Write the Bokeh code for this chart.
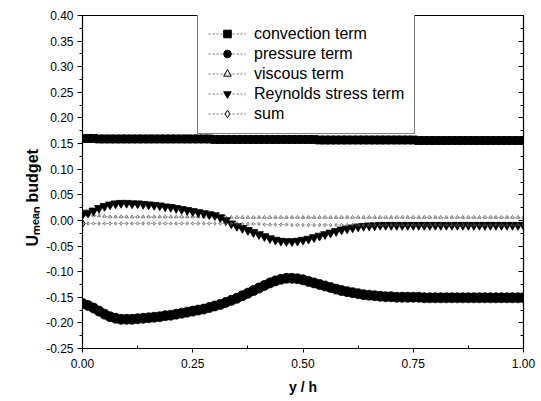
import numpy as np
from bokeh.plotting import figure
from bokeh.models import (Legend, LegendItem, LinearAxis, FixedTicker,
                          NumeralTickFormatter, ColumnDataSource, CDSView,
                          IndexFilter, Title)
from bokeh.embed import file_html
from bokeh.resources import INLINE

# ---------------- data ----------------
y_over_h = np.linspace(0.0, 1.0, 81)

convection = [
    0.160, 0.160, 0.160, 0.159, 0.159, 0.159, 0.159, 0.159, 0.159, 0.159,
    0.159, 0.159, 0.159, 0.159, 0.159, 0.159, 0.159, 0.159, 0.159, 0.159,
    0.159, 0.159, 0.159, 0.159, 0.158, 0.158, 0.158, 0.158, 0.158, 0.158,
    0.158, 0.158, 0.158, 0.158, 0.158, 0.158, 0.158, 0.158, 0.158, 0.158,
    0.158, 0.158, 0.158, 0.157, 0.157, 0.157, 0.157, 0.157, 0.157, 0.157,
    0.157, 0.157, 0.157, 0.157, 0.157, 0.157, 0.157, 0.157, 0.157, 0.157,
    0.157, 0.156, 0.156, 0.156, 0.156, 0.156, 0.156, 0.156, 0.156, 0.156,
    0.156, 0.156, 0.156, 0.156, 0.156, 0.156, 0.156, 0.156, 0.156, 0.156,
    0.156]

pressure = [
    -0.162, -0.166, -0.171, -0.177, -0.183, -0.188, -0.191, -0.193, -0.193, -0.193,
    -0.192, -0.191, -0.190, -0.189, -0.188, -0.186, -0.185, -0.183, -0.181, -0.179,
    -0.177, -0.175, -0.173, -0.170, -0.167, -0.164, -0.160, -0.156, -0.152, -0.147,
    -0.142, -0.137, -0.132, -0.127, -0.122, -0.118, -0.115, -0.113, -0.113, -0.114,
    -0.116, -0.119, -0.122, -0.125, -0.128, -0.131, -0.134, -0.137, -0.139, -0.141,
    -0.143, -0.145, -0.146, -0.147, -0.148, -0.149, -0.149, -0.150, -0.150, -0.150,
    -0.150, -0.150, -0.151, -0.151, -0.151, -0.151, -0.151, -0.151, -0.151, -0.151,
    -0.151, -0.151, -0.151, -0.151, -0.151, -0.151, -0.151, -0.151, -0.151, -0.151,
    -0.151]

viscous = [
    0.012, 0.011, 0.010, 0.009, 0.008, 0.007, 0.007, 0.007, 0.007, 0.007,
    0.007, 0.007, 0.007, 0.007, 0.007, 0.007, 0.007, 0.007, 0.007, 0.007,
    0.007, 0.007, 0.007, 0.007, 0.006, 0.006, 0.006, 0.006, 0.006, 0.006,
    0.006, 0.006, 0.006, 0.006, 0.006, 0.006, 0.006, 0.006, 0.006, 0.006,
    0.006, 0.006, 0.006, 0.006, 0.006, 0.006, 0.006, 0.006, 0.006, 0.006,
    0.006, 0.006, 0.006, 0.006, 0.006, 0.006, 0.006, 0.006, 0.006, 0.006,
    0.006, 0.006, 0.006, 0.006, 0.006, 0.006, 0.006, 0.006, 0.006, 0.006,
    0.006, 0.006, 0.006, 0.006, 0.006, 0.006, 0.006, 0.006, 0.006, 0.006,
    0.006]

reynolds = [
    0.012, 0.015, 0.019, 0.024, 0.028, 0.031, 0.033, 0.034, 0.034, 0.033,
    0.033, 0.032, 0.031, 0.030, 0.029, 0.027, 0.026, 0.024, 0.022, 0.020,
    0.018, 0.016, 0.014, 0.012, 0.010, 0.006, 0.000, -0.006, -0.011, -0.015,
    -0.019, -0.023, -0.027, -0.031, -0.035, -0.038, -0.040, -0.041, -0.041, -0.040,
    -0.038, -0.036, -0.033, -0.030, -0.027, -0.024, -0.021, -0.018, -0.016, -0.014,
    -0.012, -0.011, -0.010, -0.010, -0.009, -0.009, -0.009, -0.009, -0.009, -0.009,
    -0.009, -0.009, -0.009, -0.009, -0.009, -0.009, -0.009, -0.009, -0.009, -0.009,
    -0.009, -0.009, -0.009, -0.009, -0.009, -0.009, -0.009, -0.009, -0.009, -0.009,
    -0.009]

budget_sum = [
    -0.006, -0.006, -0.006, -0.006, -0.006, -0.006, -0.006, -0.006, -0.006, -0.006,
    -0.006, -0.006, -0.006, -0.006, -0.006, -0.006, -0.006, -0.006, -0.006, -0.006,
    -0.006, -0.006, -0.006, -0.006, -0.006, -0.006, -0.006, -0.006, -0.006, -0.007,
    -0.007, -0.007, -0.007, -0.008, -0.008, -0.008, -0.008, -0.008, -0.009, -0.009,
    -0.009, -0.009, -0.009, -0.009, -0.009, -0.009, -0.009, -0.009, -0.009, -0.009,
    -0.009, -0.009, -0.009, -0.009, -0.009, -0.009, -0.009, -0.009, -0.009, -0.009,
    -0.009, -0.009, -0.009, -0.009, -0.009, -0.009, -0.009, -0.009, -0.009, -0.009,
    -0.009, -0.009, -0.009, -0.009, -0.009, -0.009, -0.009, -0.009, -0.009, -0.009,
    -0.009]

series_labels = ["convection term", "pressure term", "viscous term",
                 "Reynolds stress term", "sum"]
y_axis_title = "U\u2098\u2091\u2090\u2099 budget"
x_axis_title = "y / h"

x_ticks = [0.0, 0.25, 0.5, 0.75, 1.0]
x_minor_ticks = [0.125, 0.375, 0.625, 0.875]
y_ticks = [-0.25, -0.20, -0.15, -0.10, -0.05, 0.0, 0.05, 0.10, 0.15,
           0.20, 0.25, 0.30, 0.35, 0.40]
y_minor_ticks = [-0.225, -0.175, -0.125, -0.075, -0.025, 0.025, 0.075,
                 0.125, 0.175, 0.225, 0.275, 0.325, 0.375]

FONT = "Liberation Sans"

# ---------------- figure ----------------
p = figure(width=541, height=401, x_range=(0.0, 1.0), y_range=(-0.25, 0.40),
           output_backend="svg", toolbar_location=None,
           min_border_left=82, min_border_right=18,
           min_border_top=15, min_border_bottom=53)
p.grid.visible = False
p.outline_line_color = "black"
p.outline_line_width = 1.2
p.background_fill_color = "white"
p.border_fill_color = "white"

src = ColumnDataSource(dict(x=y_over_h, conv=convection, pres=pressure,
                            visc=viscous, rey=reynolds, tot=budget_sum))

cols = ["conv", "pres", "visc", "rey", "tot"]

# legend key renderers (smaller markers, as in the key); drawn first, under the data
legend_styles = [
    dict(marker="square", size=5, fill="black"),
    dict(marker="circle", size=6, fill="black"),
    dict(marker="triangle", size=6, fill=None),
    dict(marker="inverted_triangle", size=7, fill="black"),
    dict(marker="diamond", size=8, fill=None),
]
first_only = CDSView(filter=IndexFilter([0]))
items = []
for lab, col, ls in zip(series_labels, cols, legend_styles):
    lr = p.line("x", col, source=src, view=first_only, line_color="#555555",
                line_width=0.8, line_dash="2 2")
    sr = p.scatter("x", col, source=src, view=first_only, marker=ls["marker"],
                   size=ls["size"], line_color="black", line_width=1.0,
                   fill_color=ls["fill"])
    items.append(LegendItem(label=lab, renderers=[lr, sr]))

# series styles
styles = [
    dict(col="conv", marker="square", size=8, fill="black", lc="#333333", lw=1.0),
    dict(col="pres", marker="circle", size=10, fill="black", lc="#333333", lw=1.0),
    dict(col="visc", marker="triangle", size=3.5, fill=None, lc="#777777", lw=0.7),
    dict(col="rey", marker="inverted_triangle", size=9, fill="black", lc="#333333", lw=1.0),
    dict(col="tot", marker="diamond", size=3.5, fill=None, lc="#777777", lw=0.7),
]
for st in styles:
    p.line("x", st["col"], source=src, line_color=st["lc"],
           line_width=st["lw"], line_dash="2 2")
    p.scatter("x", st["col"], source=src, marker=st["marker"], size=st["size"],
              line_color="black" if st["fill"] else "#555555",
              line_width=0.8 if st["fill"] else 0.7,
              fill_color=st["fill"])

legend = Legend(items=items, location=(115, 214), padding=10, margin=0,
                spacing=1, label_height=19, glyph_height=19, glyph_width=38,
                label_standoff=8, label_text_font=FONT,
                label_text_font_size="16px", label_text_color="black",
                border_line_color="black", border_line_width=1.2,
                background_fill_color="white", background_fill_alpha=1.0)
p.add_layout(legend, "center")

# ---------------- axes ----------------
xa = p.xaxis[0]
xa.ticker = FixedTicker(ticks=x_ticks, minor_ticks=x_minor_ticks)
xa.formatter = NumeralTickFormatter(format="0.00")
xa.axis_label = x_axis_title
xa.axis_label_text_font = FONT
xa.axis_label_text_font_style = "bold"
xa.axis_label_text_font_size = "14px"
xa.axis_label_text_color = "black"
xa.axis_label_standoff = 8
xa.major_label_text_font = FONT
xa.major_label_text_font_size = "12px"
xa.major_label_text_color = "black"
xa.major_label_standoff = 6
xa.major_tick_out = 4
xa.major_tick_in = 0
xa.minor_tick_in = 3
xa.minor_tick_out = 0
xa.axis_line_color = "black"

ya = p.yaxis[0]
ya.ticker = FixedTicker(ticks=y_ticks, minor_ticks=y_minor_ticks)
ya.formatter = NumeralTickFormatter(format="0.00")
ya.axis_label = None
ya.major_label_text_font = FONT
ya.major_label_text_font_size = "12px"
ya.major_label_text_color = "black"
ya.major_label_standoff = 4
ya.major_tick_out = 5
ya.major_tick_in = 0
ya.minor_tick_out = 3
ya.minor_tick_in = 0

ra = LinearAxis(ticker=FixedTicker(ticks=y_ticks, minor_ticks=y_minor_ticks),
                major_label_text_font_size="0px", major_label_text_color=None,
                major_tick_in=5, major_tick_out=0, minor_tick_in=3,
                minor_tick_out=0)
p.add_layout(ra, "right")

# y-axis title, placed lower on the axis as in the original
ytitle = Title(text=y_axis_title, align="left", offset=102,
               text_font=FONT, text_font_size="16px", text_font_style="bold",
               text_color="black", standoff=6)
p.add_layout(ytitle, "left")

open("out.html", "w").write(file_html(p, INLINE))
